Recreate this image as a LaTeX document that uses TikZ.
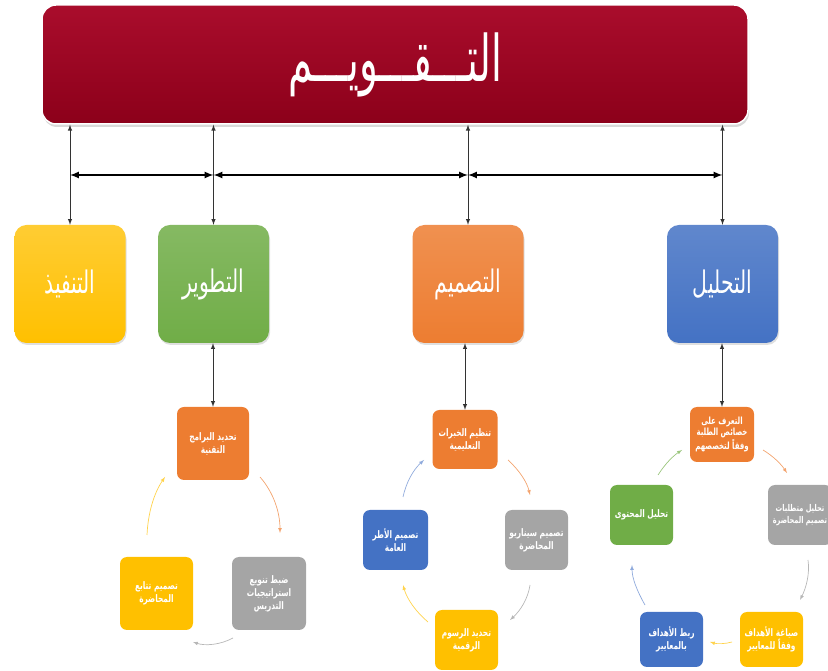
\documentclass[tikz,border=0pt]{standalone}
\usepackage{graphicx}
\usepackage{fontspec}
\newfontfamily\arabicfont[Script=Arabic]{DejaVu Sans}
\TeXXeTstate=1
\usetikzlibrary{shadows}
\newcommand{\arline}[1]{\beginR #1\endR}
\newcommand{\taskline}[1]{\scalebox{0.78}[1.1]{\beginR #1\endR}}
\newcommand{\phasetext}[1]{\scalebox{0.85}[1.3]{\arline{#1}}}
\newcommand{\titletext}[1]{\scalebox{0.85}[1.4]{\arline{#1}}}
\definecolor{taqwimred}{HTML}{A50021}
\definecolor{taqwimdark}{HTML}{8C001A}
\definecolor{phaseyellow}{HTML}{FFC000}
\definecolor{phasegreen}{HTML}{70AD47}
\definecolor{phaseorange}{HTML}{ED7D31}
\definecolor{phaseblue}{HTML}{4472C4}
\definecolor{phasegray}{HTML}{A5A5A5}
\begin{document}
\begin{tikzpicture}[>=latex,line join=bevel,
  phase/.style={rounded corners=12bp,minimum width=111bp,minimum height=118bp,inner sep=0pt,
    text=white,font=\arabicfont\fontsize{24}{28}\selectfont,
    drop shadow={opacity=0.25,shadow xshift=1bp,shadow yshift=-2bp}},
  task/.style={rounded corners=7bp,inner sep=0pt,text=white,align=center,
    font=\arabicfont\bfseries\fontsize{9.5}{13}\selectfont},
  link/.style={draw=black!80,line width=1bp,<->},
  loop/.style={->,line width=0.7bp},
]
\useasboundingbox (0bp,0bp) rectangle (828bp,671bp);
\clip (0bp,0bp) rectangle (828bp,671bp);
%%
\node (node_taqwim) at (395bp,606.5bp) [draw=white,line width=1.5bp,rounded corners=14bp,
  minimum width=706bp,minimum height=119bp,top color=taqwimred!95!white,bottom color=taqwimdark,
  text=white,font=\arabicfont\fontsize{46}{50}\selectfont,
  drop shadow={opacity=0.3,shadow xshift=1bp,shadow yshift=-3bp}] {\titletext{التـــقـــويـــم}};
%
\node (node_tanfidh) at (70bp,387bp) [phase,top color=phaseyellow!80!white,bottom color=phaseyellow] {\phasetext{التنفيذ}};
\node (node_tatwir) at (213.5bp,387bp) [phase,top color=phasegreen!85!white,bottom color=phasegreen] {\phasetext{التطوير}};
\node (node_tasmim) at (468bp,387bp) [phase,top color=phaseorange!85!white,bottom color=phaseorange] {\phasetext{التصميم}};
\node (node_tahlil) at (722.5bp,387bp) [phase,top color=phaseblue!85!white,bottom color=phaseblue] {\phasetext{التحليل}};
%
\draw [link] (node_tanfidh.north) -- (node_tanfidh.north |- node_taqwim.south);
\draw [link] (node_tatwir.north) -- (node_tatwir.north |- node_taqwim.south);
\draw [link] (node_tasmim.north) -- (node_tasmim.north |- node_taqwim.south);
\draw [link] (node_tahlil.north) -- (node_tahlil.north |- node_taqwim.south);
%
\coordinate (bus_1) at (70bp,496bp);
\coordinate (bus_2) at (213.5bp,496bp);
\coordinate (bus_3) at (468bp,496bp);
\coordinate (bus_4) at (722.5bp,496bp);
\draw [black,line width=2bp,<->] (bus_1) -- (bus_2);
\draw [black,line width=2bp,<->] (bus_2) -- (bus_3);
\draw [black,line width=2bp,<->] (bus_3) -- (bus_4);
%% cycle of the development phase
\node (node_c1_top) at (213bp,227.5bp) [task,fill=phaseorange,minimum width=72bp,minimum height=73bp] {\taskline{تحديد البرامج}\\\taskline{التقنية}};
\node (node_c1_right) at (269bp,77.5bp) [task,fill=phasegray,minimum width=74bp,minimum height=73bp] {\taskline{ضبط تنويع}\\\taskline{استراتيجيات}\\\taskline{التدريس}};
\node (node_c1_left) at (156.5bp,77.5bp) [task,fill=phaseyellow,minimum width=73bp,minimum height=73bp] {\taskline{تصميم تتابع}\\\taskline{المحاضرة}};
\draw [link] (node_c1_top.north) -- (node_c1_top.north |- node_tatwir.south);
\coordinate (arc_1a) at (260bp,194bp);
\coordinate (arc_1b) at (280bp,138bp);
\coordinate (arc_1c) at (233bp,33bp);
\coordinate (arc_1d) at (193bp,29bp);
\coordinate (arc_1e) at (147bp,136bp);
\coordinate (arc_1f) at (165bp,194bp);
\draw [loop,phaseorange!70] (arc_1a) ..controls (274bp,178bp) and (280bp,158bp) .. (arc_1b);
\draw [loop,phasegray!80] (arc_1c) ..controls (220bp,26bp) and (205bp,25bp) .. (arc_1d);
\draw [loop,phaseyellow!70] (arc_1e) ..controls (148bp,158bp) and (154bp,178bp) .. (arc_1f);
%% cycle of the design phase
\node (node_c2_top) at (465bp,231.5bp) [task,fill=phaseorange,minimum width=65bp,minimum height=59bp] {\taskline{تنظيم الخبرات}\\\taskline{التعليمية}};
\node (node_c2_right) at (536.5bp,131bp) [task,fill=phasegray,minimum width=63bp,minimum height=60bp] {\taskline{تصميم سيناريو}\\\taskline{المحاضرة}};
\node (node_c2_left) at (395.5bp,131bp) [task,fill=phaseblue,minimum width=65bp,minimum height=60bp] {\taskline{تصميم الأطر}\\\taskline{العامة}};
\node (node_c2_bottom) at (466.5bp,31bp) [task,fill=phaseyellow,minimum width=63bp,minimum height=60bp] {\taskline{تحديد الرسوم}\\\taskline{الرقمية}};
\draw [link] (node_c2_top.north) -- (node_c2_top.north |- node_tasmim.south);
\coordinate (arc_2a) at (508bp,211bp);
\coordinate (arc_2b) at (530bp,176bp);
\coordinate (arc_2c) at (530bp,86bp);
\coordinate (arc_2d) at (510bp,51bp);
\coordinate (arc_2e) at (428bp,49bp);
\coordinate (arc_2f) at (403bp,86bp);
\coordinate (arc_2g) at (403bp,174bp);
\coordinate (arc_2h) at (424bp,211bp);
\draw [loop,phaseorange!70] (arc_2a) ..controls (519bp,201bp) and (527bp,189bp) .. (arc_2b);
\draw [loop,phasegray!80] (arc_2c) ..controls (528bp,72bp) and (520bp,60bp) .. (arc_2d);
\draw [loop,phaseyellow!70] (arc_2e) ..controls (416bp,59bp) and (407bp,72bp) .. (arc_2f);
\draw [loop,phaseblue!60] (arc_2g) ..controls (406bp,188bp) and (413bp,201bp) .. (arc_2h);
%% cycle of the analysis phase
\node (node_c3_top) at (722bp,236.5bp) [task,fill=phaseorange,minimum width=64bp,minimum height=55bp,
  font=\arabicfont\bfseries\fontsize{9}{11.5}\selectfont] {\taskline{التعرف على}\\\taskline{خصائص الطلبة}\\\taskline{وفقاً لتخصصهم}};
\node (node_c3_right) at (800bp,156bp) [task,fill=phasegray,minimum width=64bp,minimum height=60bp,
  font=\arabicfont\bfseries\fontsize{8.5}{12}\selectfont] {\taskline{تحليل متطلبات}\\\taskline{تصميم المحاضرة}};
\node (node_c3_left) at (641.5bp,156bp) [task,fill=phasegreen,minimum width=63bp,minimum height=60bp] {\taskline{تحليل المحتوى}};
\node (node_c3_br) at (771.5bp,31.5bp) [task,fill=phaseyellow,minimum width=63bp,minimum height=55bp] {\taskline{صياغة الأهداف}\\\taskline{وفقاً للمعايير}};
\node (node_c3_bl) at (671.5bp,31.5bp) [task,fill=phaseblue,minimum width=63bp,minimum height=55bp] {\taskline{ربط الأهداف}\\\taskline{بالمعايير}};
\draw [link] (node_c3_top.north) -- (node_c3_top.north |- node_tahlil.south);
\coordinate (arc_3a) at (763bp,221bp);
\coordinate (arc_3b) at (787bp,198bp);
\coordinate (arc_3c) at (808bp,111bp);
\coordinate (arc_3d) at (800bp,71bp);
\coordinate (arc_3e) at (732bp,29bp);
\coordinate (arc_3f) at (710bp,29bp);
\coordinate (arc_3g) at (645bp,66bp);
\coordinate (arc_3h) at (632bp,106bp);
\coordinate (arc_3i) at (658bp,196bp);
\coordinate (arc_3j) at (682bp,221bp);
\draw [loop,phaseorange!70] (arc_3a) ..controls (773bp,215bp) and (781bp,207bp) .. (arc_3b);
\draw [loop,phasegray!80] (arc_3c) ..controls (810bp,97bp) and (806bp,83bp) .. (arc_3d);
\draw [loop,phaseyellow!70] (arc_3e) ..controls (725bp,27bp) and (717bp,27bp) .. (arc_3f);
\draw [loop,phaseblue!60] (arc_3g) ..controls (637bp,80bp) and (632bp,93bp) .. (arc_3h);
\draw [loop,phasegreen!70] (arc_3i) ..controls (665bp,207bp) and (673bp,215bp) .. (arc_3j);
%
\end{tikzpicture}
\end{document}
